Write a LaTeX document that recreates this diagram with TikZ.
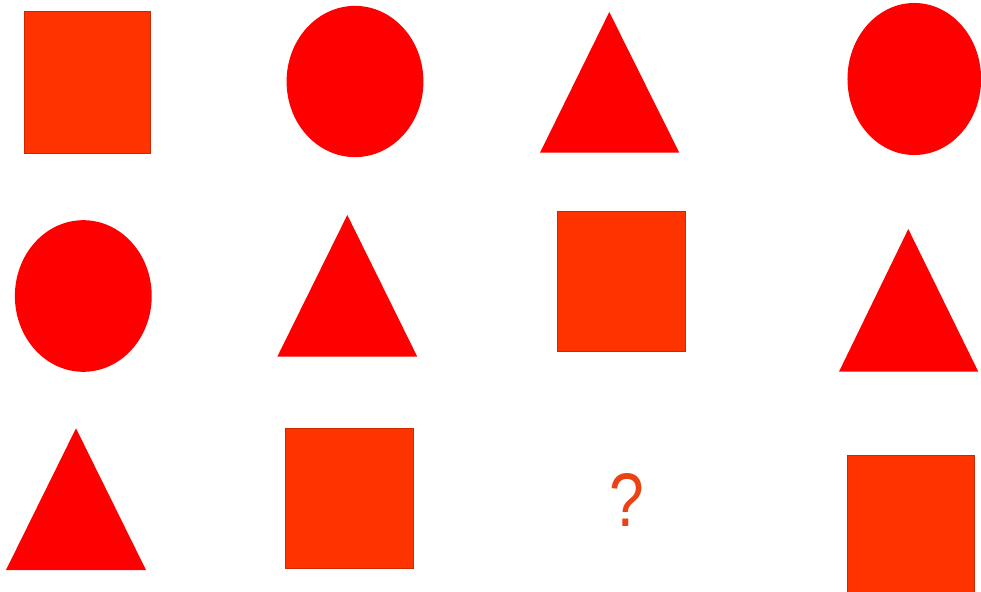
\documentclass[tikz,border=0pt]{standalone}
\usepackage{fontspec}
\setsansfont{Liberation Sans}
\definecolor{boxred}{HTML}{FF3300}
\definecolor{shapered}{HTML}{FF0000}
\definecolor{askred}{HTML}{EA4214}

\begin{document}
\begin{tikzpicture}[
    x=0.025cm, y=-0.025cm,
    box/.style={fill=boxred, draw=boxred!80!black, line width=0.3pt},
    disc/.style={fill=shapered},
    tri/.style={fill=shapered},
    ask/.style={text=askred, inner sep=0pt, font=\sffamily\fontsize{54}{54}\selectfont,
                xscale=0.82, transform shape},
  ]
    \useasboundingbox (0,0) rectangle (981,592);
    \clip (0,0) rectangle (981,592);

    % first row
    \draw[box] (24.7,11.3) rectangle (150.7,153);
    \fill[disc] (355,81.5) ellipse [x radius=1.71cm, y radius=1.89cm];
    \fill[tri] (540,152.7) -- (609.3,12) -- (679.3,152.7) -- cycle;
    \fill[disc] (914.3,79) ellipse [x radius=1.67cm, y radius=1.9cm];

    % second row
    \fill[disc] (83.3,296) ellipse [x radius=1.71cm, y radius=1.895cm];
    \fill[tri] (277.3,356.7) -- (347.3,215) -- (417.3,356.7) -- cycle;
    \draw[box] (557.3,211) rectangle (685,351.7);
    \fill[tri] (839,371.7) -- (908.3,229) -- (978.3,371.7) -- cycle;

    % third row
    \fill[tri] (6,570) -- (76,428.3) -- (146,570) -- cycle;
    \draw[box] (285.7,428.3) rectangle (413.3,568.3);
    \node[ask] (qmark) at (626.5,500) {?};
    \draw[box] (847.7,455) rectangle (974,600);
\end{tikzpicture}
\end{document}
